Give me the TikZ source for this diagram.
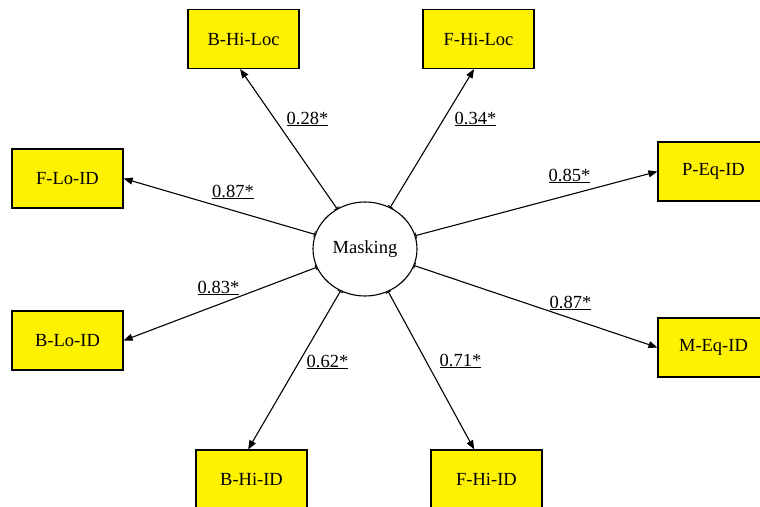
\documentclass[tikz,border=0pt]{standalone}
\usepackage{fontspec}
\setmainfont{Liberation Serif}
\usetikzlibrary{arrows.meta,calc,shapes.geometric}
\begin{document}
\begin{tikzpicture}[x=1pt,y=-1pt,
  labelfont/.style={font=\fontsize{18.5}{22}\selectfont},
  indicator/.style={labelfont, draw=black, line width=1.2pt, fill=yellow,
    minimum width=111pt, minimum height=59pt, inner sep=0pt},
  factor/.style={labelfont, ellipse, draw=black, line width=1.1pt, fill=white,
    minimum width=104pt, minimum height=94pt, inner sep=0pt},
  load/.style={line width=1.1pt,
    {Bar[width=6pt,line width=0.9pt]}-{Triangle[length=9pt,width=7pt]}},
  coef/.style={labelfont, anchor=base, inner sep=0pt}]

\useasboundingbox (0,0) rectangle (760,506);

% latent factor
\node[factor] (m) at (365,249) {Masking};

% observed indicators
\node[indicator] (bhl) at (243.5,39)  {B-Hi-Loc};
\node[indicator] (fhl) at (478.5,39)  {F-Hi-Loc};
\node[indicator] (fli) at (67.5,178.5) {F-Lo-ID};
\node[indicator] (pei) at (713.5,171.5) {P-Eq-ID};
\node[indicator] (bli) at (67.5,340.5) {B-Lo-ID};
\node[indicator] (mei) at (713.5,347.5) {M-Eq-ID};
\node[indicator] (bhi) at (251.5,479.5) {B-Hi-ID};
\node[indicator] (fhi) at (486.5,479.5) {F-Hi-ID};

% arrow end points on the indicator boxes
\coordinate (tbhl) at ($(bhl.south west)!0.47!(bhl.south east)$);
\coordinate (tfhl) at ($(fhl.south west)!0.46!(fhl.south east)$);
\coordinate (tbhi) at ($(bhi.north west)!0.47!(bhi.north east)$);
\coordinate (tfhi) at ($(fhi.north west)!0.39!(fhi.north east)$);

% factor loadings
\draw[load] (m) -- (tbhl);
\draw[load] (m) -- (tfhl);
\draw[load] (m) -- (fli.east);
\draw[load] (m) -- (pei.west);
\draw[load] (m) -- (bli.east);
\draw[load] (m) -- (mei.west);
\draw[load] (m) -- (tbhi);
\draw[load] (m) -- (tfhi);

% loading coefficients
\node[coef] (c1) at (307.5,124) {\underline{0.28*}};
\node[coef] (c2) at (475.5,124) {\underline{0.34*}};
\node[coef] (c3) at (233,197)   {\underline{0.87*}};
\node[coef] (c4) at (569.5,181) {\underline{0.85*}};
\node[coef] (c5) at (218.5,293) {\underline{0.83*}};
\node[coef] (c6) at (570.5,308) {\underline{0.87*}};
\node[coef] (c7) at (327.5,367) {\underline{0.62*}};
\node[coef] (c8) at (460.5,366) {\underline{0.71*}};
\end{tikzpicture}
\end{document}
